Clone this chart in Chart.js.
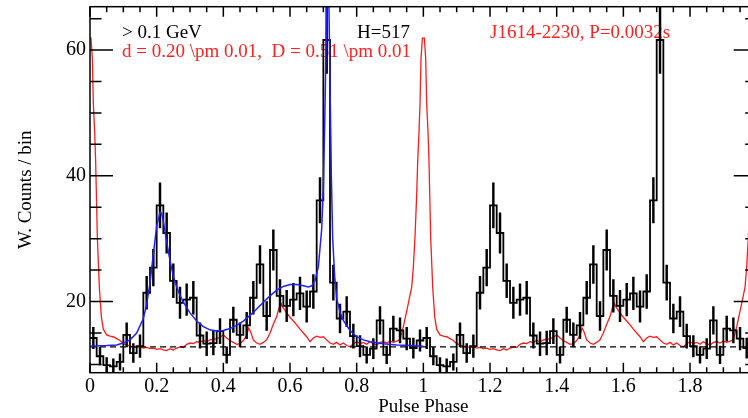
<!DOCTYPE html>
<html>
<head>
<meta charset="utf-8">
<script src="https://cdn.jsdelivr.net/npm/chart.js@4.4.1/dist/chart.umd.min.js"></script>
<style>
  html, body { margin: 0; padding: 0; background: #fff; overflow: hidden; }
  #wrap { width: 780px; height: 418px; }
</style>
</head>
<body>
<div id="wrap"><canvas id="profile" width="780" height="418"></canvas></div>
<script>
// weighted gamma-ray counts, 50 phase bins per rotation (drawn for two rotations)
const binWidth = 0.02;
const counts = [
  14.2, 11.3, 9.9, 9.7, 10.4, 14.7, 11.8, 12.9, 21.4, 25.4,
  35.3, 30.9, 23.3, 19.8, 20.3, 20.6, 14.6, 13.3, 13.4, 15.3,
  11.5, 17.1, 14.7, 16.2, 20.6, 25.9, 17.7, 28.2, 20.9, 19.3,
  20.3, 21.3, 19.2, 21.6, 36.1, 61.6, 23.0, 17.3, 18.4, 14.5,
  12.9, 11.5, 12.5, 17.0, 11.5, 15.7, 15.4, 14.1, 12.6, 13.8
];
const countErrors = [
  1.7, 1.4, 1.2, 1.2, 1.3, 1.9, 1.5, 1.8, 2.6, 2.9,
  3.6, 3.2, 2.7, 2.5, 2.5, 2.6, 2.0, 1.9, 1.9, 2.0,
  1.3, 2.0, 1.9, 2.1, 2.6, 3.0, 2.3, 3.2, 2.6, 2.5,
  2.6, 2.6, 2.5, 2.7, 3.6, 5.3, 2.8, 2.3, 2.4, 1.9,
  1.7, 1.3, 1.6, 2.2, 1.4, 2.0, 2.0, 1.8, 1.6, 1.7
];

// radio profile, scaled onto the count axis (one rotation)
const radioPhase = [
  0.000, 0.003, 0.007, 0.010, 0.014, 0.017, 0.022, 0.028, 0.034, 0.040,
  0.050, 0.060, 0.070, 0.080, 0.090, 0.100, 0.110, 0.120, 0.130, 0.140,
  0.150, 0.160, 0.170, 0.180, 0.190, 0.200, 0.210, 0.220, 0.230, 0.240,
  0.250, 0.260, 0.270, 0.280, 0.290, 0.300, 0.310, 0.320, 0.330, 0.340,
  0.350, 0.360, 0.370, 0.380, 0.390, 0.400, 0.410, 0.420, 0.430, 0.440,
  0.450, 0.460, 0.470, 0.476, 0.482, 0.490, 0.500, 0.510, 0.520, 0.530,
  0.540, 0.550, 0.560, 0.567, 0.573, 0.578, 0.585, 0.590, 0.600, 0.610,
  0.620, 0.630, 0.640, 0.650, 0.660, 0.670, 0.680, 0.690, 0.700, 0.710,
  0.720, 0.730, 0.740, 0.750, 0.760, 0.770, 0.780, 0.790, 0.800, 0.810,
  0.820, 0.830, 0.840, 0.850, 0.860, 0.870, 0.880, 0.890, 0.900, 0.910,
  0.920, 0.930, 0.940, 0.955, 0.965, 0.970, 0.975, 0.980, 0.983, 0.987,
  0.990, 0.993, 0.997
];
const radioLevel = [
  61.9, 61.9, 58.7, 51.5, 47.0, 42.2, 30.3, 22.3, 17.6, 15.6,
  14.7, 14.5, 14.4, 14.1, 13.8, 13.3, 13.1, 12.9, 12.8, 12.7,
  12.8, 12.6, 12.7, 12.5, 12.6, 12.4, 12.5, 12.3, 12.2, 12.5,
  12.3, 12.6, 12.8, 12.7, 13.2, 13.4, 13.3, 13.6, 13.5, 13.8,
  13.6, 13.9, 14.0, 14.1, 14.3, 14.7, 14.2, 13.8, 13.5, 13.2,
  13.3, 13.8, 14.6, 15.8, 15.2, 13.9, 13.4, 13.2, 13.5, 13.9,
  15.0, 16.4, 17.6, 19.0, 19.7, 19.1, 18.6, 18.2, 17.5, 16.9,
  16.3, 15.6, 15.0, 14.4, 13.6, 14.2, 14.5, 14.3, 14.4, 13.9,
  13.4, 13.2, 13.5, 13.1, 13.4, 13.0, 12.8, 13.3, 13.6, 13.3,
  13.5, 13.2, 13.6, 13.3, 13.1, 13.5, 13.6, 13.4, 13.7, 13.5,
  13.7, 13.9, 16.0, 19.7, 22.3, 25.5, 30.3, 37.0, 42.2, 47.0,
  51.5, 58.7, 61.9
];

// two-peak fit, first rotation only
const fitPhase = [
  0.00, 0.05, 0.08, 0.10, 0.12, 0.14, 0.16, 0.17, 0.18, 0.19,
  0.20, 0.21, 0.215, 0.22, 0.23, 0.24, 0.25, 0.26, 0.27, 0.28,
  0.30, 0.32, 0.34, 0.36, 0.38, 0.40, 0.42, 0.44, 0.46, 0.48,
  0.50, 0.52, 0.54, 0.56, 0.58, 0.60, 0.62, 0.64, 0.655, 0.665,
  0.675, 0.685, 0.695, 0.700, 0.704, 0.708, 0.712, 0.716, 0.720, 0.724,
  0.728, 0.734, 0.74, 0.75, 0.76, 0.78, 0.80, 0.82, 0.84, 0.88,
  0.92, 0.96, 1.00
];
const fitLevel = [
  12.9, 13.0, 13.1, 13.4, 13.9, 15.0, 17.3, 19.5, 23.0, 27.5,
  32.0, 34.2, 34.0, 32.8, 29.5, 26.5, 24.0, 22.3, 21.0, 19.9,
  18.2, 16.9, 16.0, 15.5, 15.3, 15.4, 15.7, 16.2, 16.9, 17.8,
  18.8, 19.9, 20.9, 21.8, 22.4, 22.7, 22.7, 22.5, 22.3, 22.5,
  23.3, 25.5, 31.5, 38.0, 48.0, 60.0, 70.0, 70.0, 55.0, 40.0,
  30.0, 24.0, 20.5, 18.3, 17.0, 15.4, 14.4, 13.9, 13.6, 13.3,
  13.1, 13.0, 12.9
];

const background = 12.8;
const rotations = [0, 1];

// expand the single-rotation arrays over two rotations
const histPoints = [];
const errPoints = [];
rotations.forEach(r => counts.forEach((v, i) => {
  histPoints.push({x: r + i * binWidth, y: v});
  errPoints.push({x: r + (i + 0.5) * binWidth, y: [v - countErrors[i], v + countErrors[i]]});
}));
histPoints.push({x: 2, y: counts[counts.length - 1]});

const radioPoints = [];
rotations.forEach(r => radioPhase.forEach((p, i) => radioPoints.push({x: r + p, y: radioLevel[i]})));
radioPoints.push({x: 2, y: radioLevel[0]});

const fitPoints = fitPhase.map((p, i) => ({x: p, y: fitLevel[i]}));

// plain text in the upper part of the frame
const panelText = {
  id: 'panelText',
  beforeDatasetsDraw(chart) {
    const {ctx, chartArea: a} = chart;
    ctx.save();
    ctx.font = '19px "Liberation Serif", serif';
    ctx.textBaseline = 'alphabetic';
    ctx.fillStyle = '#000';
    ctx.fillText('> 0.1 GeV', a.left + 32, a.top + 31);
    ctx.fillText('H=517', a.left + 267, a.top + 31);
    ctx.fillStyle = '#ff2020';
    ctx.fillText('d = 0.20 \\pm 0.01,  D = 0.51 \\pm 0.01', a.left + 32, a.top + 50);
    ctx.fillText('J1614-2230, P=0.0032s', a.left + 400, a.top + 31);
    ctx.restore();
  }
};

// closed frame with inward ticks on all four sides
const frameTicks = {
  id: 'frameTicks',
  afterDatasetsDraw(chart) {
    const {ctx, chartArea: a, scales: {x, y}} = chart;
    ctx.save();
    ctx.strokeStyle = '#000';
    ctx.lineWidth = 1.5;
    ctx.strokeRect(a.left, a.top, a.right - a.left, a.bottom - a.top);
    ctx.beginPath();
    for (let i = 0; i <= 40; i++) {
      const px = x.getPixelForValue(i * 0.05);
      const len = i % 4 === 0 ? 10 : 5.5;
      ctx.moveTo(px, a.bottom); ctx.lineTo(px, a.bottom - len);
      ctx.moveTo(px, a.top); ctx.lineTo(px, a.top + len);
    }
    for (let v = 10; v <= 65; v += 5) {
      const py = y.getPixelForValue(v);
      const len = v % 20 === 0 ? 23 : 11.5;
      ctx.moveTo(a.left, py); ctx.lineTo(a.left + len, py);
      ctx.moveTo(a.right, py); ctx.lineTo(a.right - len, py);
    }
    ctx.stroke();
    ctx.restore();
  }
};

Chart.defaults.font.family = '"Liberation Serif", "Times New Roman", serif';
Chart.defaults.color = '#000';

new Chart(document.getElementById('profile'), {
  type: 'line',
  data: {
    datasets: [
      {
        type: 'line',
        data: fitPoints,
        borderColor: '#1f1fff',
        borderWidth: 1.5,
        pointRadius: 0,
        tension: 0,
        order: 0
      },
      {
        type: 'line',
        data: [{x: 0, y: background}, {x: 2, y: background}],
        borderColor: '#000',
        borderWidth: 1.3,
        borderDash: [6, 4],
        pointRadius: 0,
        order: 1
      },
      {
        type: 'bar',
        data: errPoints,
        backgroundColor: '#000',
        borderWidth: 0,
        barThickness: 1.8,
        order: 2
      },
      {
        // each bin value holds from its left edge to the next edge
        type: 'line',
        data: histPoints,
        stepped: 'before',
        borderColor: '#000',
        borderWidth: 1.8,
        pointRadius: 0,
        order: 3
      },
      {
        type: 'line',
        data: radioPoints,
        borderColor: '#ff1a1a',
        borderWidth: 1.3,
        pointRadius: 0,
        tension: 0,
        order: 4
      }
    ]
  },
  options: {
    responsive: false,
    animation: false,
    devicePixelRatio: 1,
    layout: {padding: {left: 0, right: 23.3, top: 6.7, bottom: 0}},
    plugins: {legend: {display: false}, tooltip: {enabled: false}},
    scales: {
      x: {
        type: 'linear',
        min: 0,
        max: 2,
        offset: false,
        grid: {display: false, drawTicks: false},
        border: {display: false},
        ticks: {
          stepSize: 0.2,
          padding: 2,
          maxRotation: 0,
          autoSkip: false,
          font: {size: 20},
          callback: v => String(+v.toFixed(1))
        },
        title: {display: true, text: 'Pulse Phase', font: {size: 19}, padding: 0},
        afterFit: s => { s.height = 45.3; s.paddingLeft = 0; s.paddingRight = 0; }
      },
      y: {
        type: 'linear',
        min: 8.68,
        max: 66.9,
        grid: {display: false, drawTicks: false},
        border: {display: false},
        ticks: {stepSize: 20, includeBounds: false, padding: 4, font: {size: 20}},
        title: {display: true, text: 'W. Counts / bin', font: {size: 19}, padding: {top: 15, bottom: 0}},
        afterFit: s => { s.width = 90; s.paddingTop = 0; s.paddingBottom = 0; }
      }
    }
  },
  plugins: [panelText, frameTicks]
});
</script>
</body>
</html>
